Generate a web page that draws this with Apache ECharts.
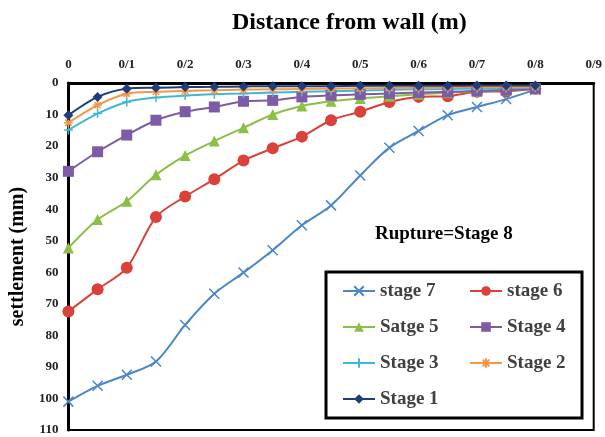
<!DOCTYPE html>
<html><head><meta charset="utf-8">
<script src="https://cdn.jsdelivr.net/npm/echarts@6/dist/echarts.min.js"></script>
<style>html,body{margin:0;padding:0;background:#fff}#c{width:605px;height:437px}</style>
</head><body><div id="c"></div>
<script>
const distance = [0,0.05,0.1,0.15,0.2,0.25,0.3,0.35,0.4,0.45,0.5,0.55,0.6,0.65,0.7,0.75,0.8];
const xTickLabels = ['0','0/1','0/2','0/3','0/4','0/5','0/6','0/7','0/8','0/9'];
const stage7 = [101,96,92.5,88.3,76.7,66.8,60.1,53,45.1,38.8,29.3,20.5,15.2,10.2,7.6,5.1,2.1];
const stage6 = [72.4,65.4,58.6,42.5,36,30.5,24.6,20.7,17,11.8,9.1,6,4.4,4.2,2.8,2.6,1.8];
const stage5 = [52.3,43.3,37.5,29.1,23,18.4,14.2,10,7.3,5.8,4.9,4.2,3.6,3.1,2.6,2.2,1.8];
const stage4 = [28,21.8,16.5,11.8,9.1,7.6,5.8,5.5,4.4,3.9,3.6,3.3,3,2.8,2.5,2.2,1.8];
const stage3 = [14.9,9.7,6,4.6,4,3.6,3.3,3,2.8,2.6,2.4,2.2,2,1.9,1.8,1.7,1.5];
const stage2 = [12.6,7,3.4,2.8,2.5,2.3,2.1,2,1.9,1.8,1.7,1.6,1.5,1.4,1.3,1.3,1.2];
const stage1 = [10.2,4.4,1.8,1.5,1.3,1.2,1.1,1,1,1,0.9,0.9,0.9,0.9,0.8,0.8,0.8];
const seriesNames = ['stage 7','stage 6','Satge 5','Stage 4','Stage 3','Stage 2','Stage 1'];

const FONT = '"Liberation Serif", "DejaVu Serif", serif';
const pair = arr => distance.map((d,i)=>[d,arr[i]]);
const crossPath = 'path://M0,0L10,10M10,0L0,10';
const plusPath = 'path://M5,0L5,10M0,5L10,5';
const starPath = 'path://M5,0L5,10M0,5L10,5M1.5,1.5L8.5,8.5M8.5,1.5L1.5,8.5';

function mk(name, arr, color, symbol, size, stroke){
  return {
    name, type:'line', data: pair(arr), smooth:0.3,
    symbol, symbolSize:size,
    lineStyle:{color, width:2},
    itemStyle: stroke ? {color:'transparent', borderColor:color, borderWidth:1.5} : {color, borderColor:color, borderWidth:0},
    color
  };
}

const legendText = {color:'#404040',fontFamily:FONT,fontWeight:'bold',fontSize:19,lineHeight:20};
const chart = echarts.init(document.getElementById('c'));
chart.setOption({
  animation:false,
  backgroundColor:'#fff',
  grid:{left:64,right:9,top:83,bottom:7,show:true,borderColor:'#000',borderWidth:2},
  xAxis:{type:'value',position:'top',min:0,max:0.9,interval:0.1,
    axisLine:{show:true,lineStyle:{color:'#000',width:3}},
    axisTick:{show:false},splitLine:{show:false},
    axisLabel:{color:'#222',fontFamily:FONT,fontWeight:'bold',fontSize:13,margin:12,
      formatter:v=>xTickLabels[Math.round(v*10)]}},
  yAxis:{type:'value',inverse:true,min:0,max:110,interval:10,
    name:'settlement (mm)',nameLocation:'middle',nameRotate:90,nameGap:36,
    nameTextStyle:{color:'#000',fontFamily:FONT,fontWeight:'bold',fontSize:20},
    axisLine:{show:true,lineStyle:{color:'#000',width:3}},
    axisTick:{show:false},splitLine:{show:false},
    axisLabel:{color:'#222',fontFamily:FONT,fontWeight:'bold',fontSize:13,margin:10}},
  legend:[
    {data:['stage 7','Satge 5','Stage 3','Stage 1'],orient:'vertical',left:342,top:281,padding:0,
     itemWidth:32,itemHeight:12,itemGap:16,textStyle:legendText},
    {data:['stage 6','Stage 4','Stage 2'],orient:'vertical',left:469,top:281,padding:0,
     itemWidth:32,itemHeight:12,itemGap:16,textStyle:legendText}
  ],
  graphic:[
    {type:'text',left:232,top:11,style:{text:'Distance from wall (m)',fill:'#000',font:'bold 24px '+FONT}},
    {type:'text',left:375,top:225,style:{text:'Rupture=Stage 8',fill:'#000',font:'bold 19px '+FONT}},
    {type:'rect',shape:{x:326,y:272,width:256,height:146},style:{fill:'none',stroke:'#000',lineWidth:3},z:10}
  ],
  series:[
    mk(seriesNames[0],stage7,'#4a86c8',crossPath,10,true),
    mk(seriesNames[1],stage6,'#d9413a','circle',12,false),
    mk(seriesNames[2],stage5,'#8cbf45','triangle',11,false),
    mk(seriesNames[3],stage4,'#7d5ba6','rect',11,false),
    mk(seriesNames[4],stage3,'#3fb8d8',plusPath,9,true),
    mk(seriesNames[5],stage2,'#f79646',starPath,9,true),
    mk(seriesNames[6],stage1,'#1f3d7a','diamond',10,false)
  ]
});
</script></body></html>
